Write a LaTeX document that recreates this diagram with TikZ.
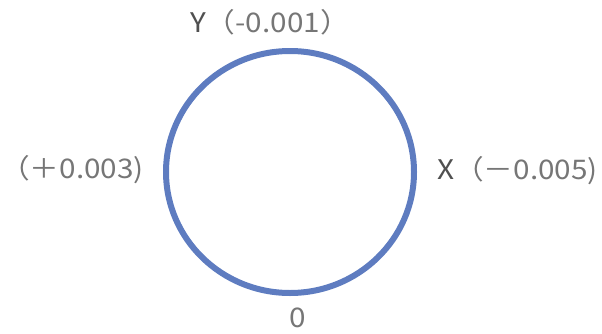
\documentclass[tikz,border=0pt]{standalone}
\usepackage{fontspec}
\setmainfont{Noto Sans CJK JP}[FakeStretch=1.1]
\definecolor{ringblue}{RGB}{94,124,192}
\definecolor{lbl}{RGB}{118,118,118}
\definecolor{axis}{RGB}{80,80,80}
\begin{document}
\begin{tikzpicture}[x=1pt,y=1pt,
  lab/.style={inner sep=0pt,text=lbl,font=\fontsize{27}{30}\selectfont},
  ring/.style={draw=ringblue,line width=6pt}]
\useasboundingbox (0,0) rectangle (602,333);
\draw[ring] (290,161) ellipse [x radius=124, y radius=121];
\node[lab,anchor=west] (top) at (190,311) {\textcolor{axis}{Y}（-0.001）};
\node[lab,anchor=west] (left) at (0,163) {（＋0.003)};
\node[lab,anchor=west] (right) at (437,162) {\textcolor{axis}{X}（－0.005)};
\node[lab] (bottom) at (298,15) {0};
\end{tikzpicture}
\end{document}
